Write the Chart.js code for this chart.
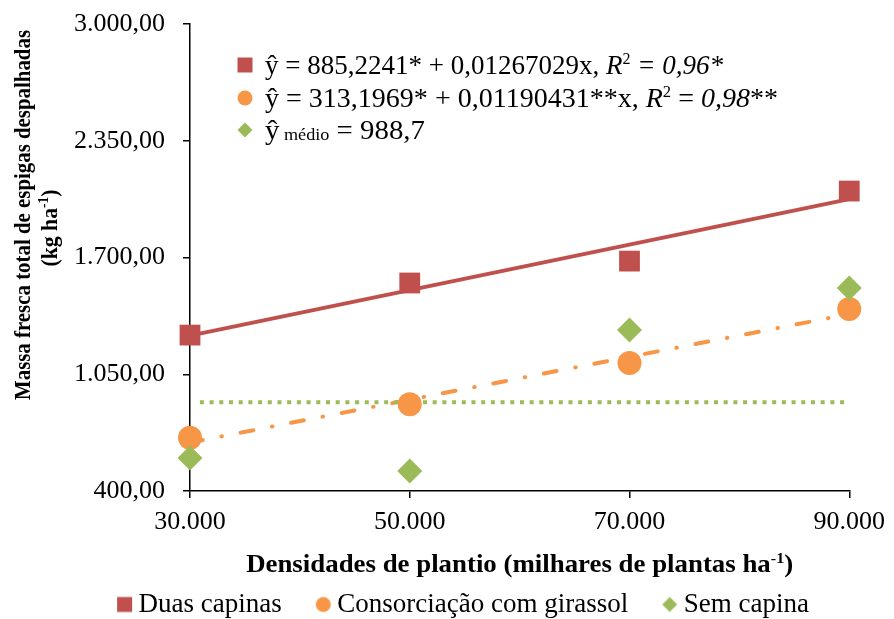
<!DOCTYPE html>
<html><head><meta charset="utf-8">
<script src="https://cdn.jsdelivr.net/npm/chart.js@4/dist/chart.umd.min.js"></script>
<style>html,body{margin:0;padding:0;background:#fff;}canvas{display:block;}</style>
</head><body>
<canvas id="c" width="894" height="619"></canvas>
<script>
// ---- data ----
const densities = [30000, 50000, 70000, 90000];
const duasCapinas = [1268, 1558, 1680, 2070];
const consorciacao = [697, 883, 1113, 1413];
const semCapina = [584, 511, 1296, 1530];
const fitDuasX = [30000, 90000];
const fitDuasY = [1265, 2025];
const fitConsX = [30000, 90000];
const fitConsY = [670, 1385];
const meanX = [30900, 90000];
const meanY = [894, 894];
const seriesNames = ['Duas capinas', 'Consorciação com girassol', 'Sem capina'];
const xTicks = [30000, 50000, 70000, 90000];
const yTicks = [400, 1050, 1700, 2350, 3000];
const yTitleLine1 = 'Massa fresca total de espigas despalhadas';
const yTitleLine2 = ['(kg ha', '-1', ')'];
const xTitleParts = ['Densidades de plantio (milhares de plantas ha', '-1', ')'];
const eqRows = [
  [{t:'ŷ = 885,2241* + 0,01267029x, '}, {t:'R', i:1}, {t:'2', sup:1}, {t:' = ', i:1}, {t:'0,96*', i:1}],
  [{t:'ŷ = 313,1969* + 0,01190431**x, '}, {t:'R', i:1}, {t:'2', sup:1}, {t:' = '}, {t:'0,98', i:1}, {t:'**'}],
  [{t:'ŷ'}, {t:' médio', sub:1}, {t:' = 988,7'}]
];

// ---- styles ----
const RED = '#C0504D', ORANGE = '#F79646', GREEN = '#9BBB59';
const COLORS = [RED, ORANGE, GREEN];
const SHAPES = ['rect', 'circle', 'diamond'];
const FONT = '"Liberation Serif", "Times New Roman", serif';
const EQ_WIDTHS = [458, 513, 160];

function fmtInt(n){ return String(Math.round(n)).replace(/\B(?=(\d{3})+(?!\d))/g, '.'); }
function fmtDec(n){ const i = Math.floor(n); const d = Math.round((n - i) * 100); return fmtInt(i) + ',' + String(d).padStart(2, '0'); }

function drawShape(g, shape, cx, cy, size){
  const r = size / 2;
  g.beginPath();
  if (shape === 'rect') g.rect(cx - r, cy - r, size, size);
  else if (shape === 'circle') g.arc(cx, cy, r, 0, Math.PI * 2);
  else { g.moveTo(cx - r, cy); g.lineTo(cx, cy - r); g.lineTo(cx + r, cy); g.lineTo(cx, cy + r); g.closePath(); }
  g.fill();
}
function markerCanvas(shape, color, size){
  const W = 46, H = 20, right = 45;
  const c = document.createElement('canvas'); c.width = W; c.height = H;
  const g = c.getContext('2d'); g.fillStyle = color;
  drawShape(g, shape, right - size / 2, H / 2, size);
  return c;
}
const legendMarkers = [markerCanvas('rect', RED, 15), markerCanvas('circle', ORANGE, 15), markerCanvas('diamond', GREEN, 15)];

const pts = (ys) => densities.map((x, i) => ({x, y: ys[i]}));
const seg = (xs, ys) => xs.map((x, i) => ({x, y: ys[i]}));

const legendFit = {
  id: 'legendFit',
  beforeLayout(chart){
    const lg = chart.legend;
    if (lg && !lg._patched){
      const orig = lg.fit;
      lg.fit = function(){ orig.call(this); this.height = 40; };
      lg._patched = true;
    }
  },
  afterLayout(chart){
    const lg = chart.legend;
    if (lg){ lg.left = 10; lg.right = 894; }
  }
};

function drawSupText(g, parts, size, supSize, supDy, targetW){
  g.font = 'bold ' + size + 'px ' + FONT;
  const w0 = g.measureText(parts[0]).width;
  const w2 = g.measureText(parts[2]).width;
  g.font = 'bold ' + supSize + 'px ' + FONT;
  const w1 = g.measureText(parts[1]).width;
  const tot = w0 + w1 + w2;
  const sx = targetW ? targetW / tot : 1;
  g.save();
  g.scale(sx, 1);
  g.textAlign = 'left'; g.textBaseline = 'alphabetic';
  let x = -tot / 2;
  g.font = 'bold ' + size + 'px ' + FONT;
  g.fillText(parts[0], x, 0); x += w0;
  g.font = 'bold ' + supSize + 'px ' + FONT;
  g.fillText(parts[1], x, supDy); x += w1;
  g.font = 'bold ' + size + 'px ' + FONT;
  g.fillText(parts[2], x, 0);
  g.restore();
}

function segFont(s){
  let size = 27, dy = 0;
  if (s.sup){ size = 16; dy = -10; }
  if (s.sub){ size = 17; dy = 1; }
  return {font: (s.i ? 'italic ' : '') + size + 'px ' + FONT, dy};
}

const extraText = {
  id: 'extraText',
  afterDraw(chart){
    const g = chart.ctx, a = chart.chartArea;
    g.save();
    g.fillStyle = '#000';
    // y axis title line 1
    g.save();
    g.translate(a.left - 160, a.top + 191);
    g.rotate(-Math.PI / 2);
    g.font = 'bold 24px ' + FONT;
    const w = g.measureText(yTitleLine1).width;
    g.scale(370 / w, 1);
    g.textAlign = 'center'; g.textBaseline = 'alphabetic';
    g.fillText(yTitleLine1, 0, 0);
    g.restore();
    // y axis title line 2
    g.save();
    g.translate(a.left - 133, a.top + 204);
    g.rotate(-Math.PI / 2);
    drawSupText(g, yTitleLine2, 24, 15, -9, 77);
    g.restore();
    // x axis title
    g.save();
    g.translate((a.left + a.right) / 2, a.bottom + 81);
    drawSupText(g, xTitleParts, 25, 15, -9, 547);
    g.restore();

    // equation legend
    const rowY = [41, 74, 106];
    const mx = a.left + 55, tx = a.left + 75;
    eqRows.forEach((row, r) => {
      const cy = a.top + rowY[r];
      g.fillStyle = COLORS[r];
      drawShape(g, SHAPES[r], mx, cy, 15);
      g.fillStyle = '#000';
      g.textAlign = 'left'; g.textBaseline = 'alphabetic';
      let tot = 0;
      row.forEach(s => { g.font = segFont(s).font; tot += g.measureText(s.t).width; });
      g.save();
      g.translate(tx, cy + 9);
      g.scale(EQ_WIDTHS[r] / tot, 1);
      let x = 0;
      row.forEach(s => {
        const f = segFont(s);
        g.font = f.font;
        g.fillText(s.t, x, f.dy);
        x += g.measureText(s.t).width;
      });
      g.restore();
    });
    g.restore();
  }
};

new Chart(document.getElementById('c'), {
  type: 'scatter',
  data: {
    datasets: [
      {label: seriesNames[0], data: pts(duasCapinas), pointStyle: 'rect', pointRadius: 14.7, backgroundColor: RED, borderColor: RED, pointBorderWidth: 0, showLine: false, order: 2, clip: false},
      {label: seriesNames[1], data: pts(consorciacao), pointStyle: 'circle', pointRadius: 12, backgroundColor: ORANGE, borderColor: ORANGE, pointBorderWidth: 0, showLine: false, order: 1, clip: false},
      {label: seriesNames[2], data: pts(semCapina), pointStyle: 'rectRot', pointRadius: 12.5, backgroundColor: GREEN, borderColor: GREEN, pointBorderWidth: 0, showLine: false, order: 0, clip: false},
      {label: 'fitDuas', data: seg(fitDuasX, fitDuasY), showLine: true, borderColor: RED, borderWidth: 4, pointRadius: 0, order: 5, clip: false},
      {label: 'fitCons', data: seg(fitConsX, fitConsY), showLine: true, borderColor: ORANGE, borderWidth: 4, borderDash: [13, 19, 0.5, 19], borderCapStyle: 'round', pointRadius: 0, order: 4, clip: false},
      {label: 'mean', data: seg(meanX, meanY), showLine: true, borderColor: GREEN, borderWidth: 4, borderDash: [4, 5.7], borderCapStyle: 'butt', pointRadius: 0, order: 3, clip: false}
    ]
  },
  options: {
    responsive: false,
    animation: false,
    devicePixelRatio: 1,
    events: [],
    layout: {padding: {left: 0, right: 40, top: 24, bottom: 0}},
    scales: {
      x: {
        type: 'linear', position: 'bottom',
        min: xTicks[0], max: xTicks[xTicks.length - 1],
        afterBuildTicks: (s) => { s.ticks = xTicks.map(v => ({value: v})); },
        afterFit: (s) => { s.height = 88; },
        grid: {drawOnChartArea: false, drawTicks: true, tickLength: 7, color: '#000', lineWidth: 1.5},
        border: {display: true, color: '#000', width: 1.5},
        ticks: {color: '#000', padding: 9, font: {family: FONT, size: 26}, maxRotation: 0, callback: (v) => fmtInt(v)},
        title: {display: false}
      },
      y: {
        type: 'linear', position: 'left',
        min: yTicks[0], max: yTicks[yTicks.length - 1],
        afterBuildTicks: (s) => { s.ticks = yTicks.map(v => ({value: v})); },
        afterFit: (s) => { s.width = 190; s.paddingTop = 0; s.paddingBottom = 0; },
        grid: {drawOnChartArea: false, drawTicks: true, tickLength: 7, color: '#000', lineWidth: 1.5},
        border: {display: true, color: '#000', width: 1.5},
        ticks: {color: '#000', padding: 18, font: {family: FONT, size: 26}, callback: (v) => fmtDec(v)}
      }
    },
    plugins: {
      tooltip: {enabled: false},
      legend: {
        display: true, position: 'bottom', align: 'center',
        labels: {
          usePointStyle: true, pointStyleWidth: 30, padding: 12, color: '#000',
          font: {family: FONT, size: 27},
          generateLabels(chart){
            const items = Chart.defaults.plugins.legend.labels.generateLabels(chart);
            return items.filter(it => it.datasetIndex < 3)
              .sort((p, q) => p.datasetIndex - q.datasetIndex)
              .map(it => Object.assign({}, it, {pointStyle: legendMarkers[it.datasetIndex], lineWidth: 0}));
          }
        }
      }
    }
  },
  plugins: [legendFit, extraText]
});
</script>
</body></html>
